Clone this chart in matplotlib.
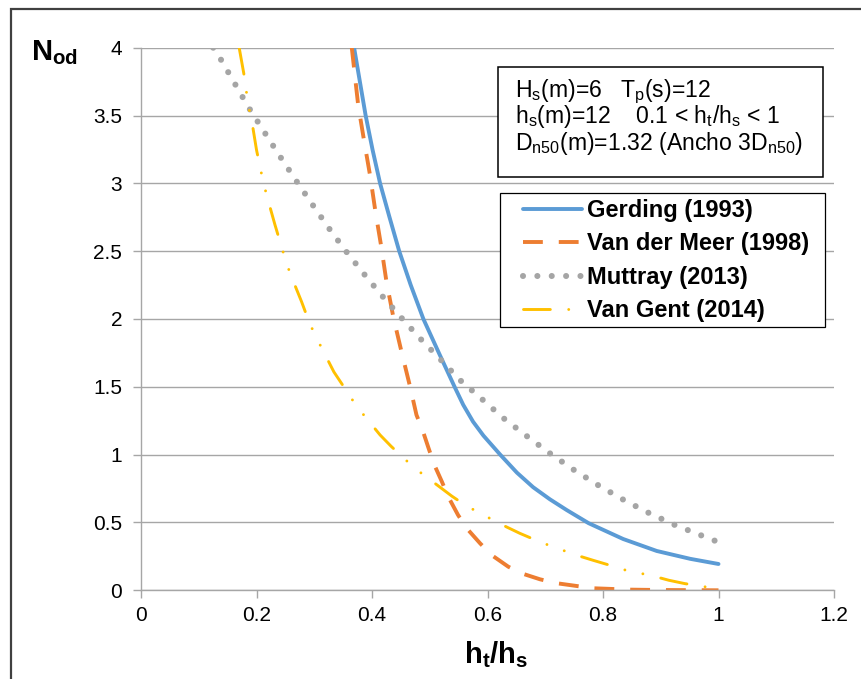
import matplotlib
matplotlib.use('Agg')
import matplotlib.pyplot as plt
from matplotlib.patches import Rectangle

plt.rcParams['font.family'] = ['Liberation Sans', 'DejaVu Sans']
plt.rcParams['mathtext.fontset'] = 'custom'
plt.rcParams['mathtext.rm'] = 'Liberation Sans'
plt.rcParams['mathtext.it'] = 'Liberation Sans:italic'
plt.rcParams['mathtext.bf'] = 'Liberation Sans:bold'
plt.rcParams['mathtext.default'] = 'rm'

W, H = 861, 679

# data (x = ht/hs, y = Nod)
gerding_x = [0.369, 0.389, 0.401, 0.414, 0.430, 0.447, 0.467, 0.489, 0.516, 0.543, 0.558, 0.575,
             0.593, 0.622, 0.651, 0.679, 0.708, 0.737, 0.775, 0.835, 0.893, 0.951, 1.000]
gerding_y = [4.000, 3.500, 3.247, 3.000, 2.755, 2.502, 2.251, 2.000, 1.748, 1.500, 1.367, 1.243,
             1.140, 1.000, 0.867, 0.760, 0.671, 0.592, 0.495, 0.378, 0.290, 0.232, 0.194]

meer_x = [0.365, 0.376, 0.386, 0.397, 0.406, 0.416, 0.425, 0.437, 0.451, 0.466, 0.477, 0.488,
          0.498, 0.508, 0.521, 0.532, 0.549, 0.564, 0.587, 0.607, 0.636, 0.659, 0.691, 0.720,
          0.754, 0.783, 0.815, 0.844, 0.900, 1.000]
meer_y = [4.000, 3.579, 3.321, 3.050, 2.790, 2.534, 2.276, 2.013, 1.760, 1.500, 1.293, 1.175,
          1.047, 0.924, 0.801, 0.690, 0.555, 0.457, 0.347, 0.260, 0.174, 0.125, 0.081, 0.052,
          0.032, 0.015, 0.010, 0.005, 0.002, 0.000]

muttray_x = [0.125, 0.136, 0.161, 0.186, 0.213, 0.240, 0.268, 0.296, 0.324, 0.353, 0.385, 0.417,
             0.450, 0.483, 0.518, 0.552, 0.590, 0.627, 0.667, 0.707, 0.748, 0.790, 0.833, 0.877,
             0.923, 0.970, 1.000]
muttray_y = [4.000, 3.930, 3.746, 3.562, 3.382, 3.203, 3.024, 2.849, 2.677, 2.510, 2.338, 2.173,
             2.013, 1.858, 1.704, 1.551, 1.411, 1.271, 1.140, 1.013, 0.892, 0.779, 0.673, 0.575,
             0.484, 0.405, 0.355]

gent_x = [0.170, 0.178, 0.182, 0.186, 0.192, 0.200, 0.206, 0.212, 0.219, 0.232, 0.241, 0.249,
          0.258, 0.278, 0.287, 0.298, 0.310, 0.334, 0.349, 0.365, 0.381, 0.414, 0.433, 0.454,
          0.474, 0.515, 0.538, 0.561, 0.587, 0.632, 0.656, 0.683, 0.708, 0.757, 0.783, 0.810,
          0.838, 0.887, 0.914, 0.942, 0.971, 1.000]
gent_y = [4.000, 3.810, 3.690, 3.570, 3.456, 3.247, 3.124, 3.004, 2.891, 2.694, 2.566, 2.453,
          2.338, 2.128, 2.025, 1.912, 1.810, 1.610, 1.514, 1.410, 1.317, 1.145, 1.062, 0.978,
          0.900, 0.769, 0.695, 0.629, 0.568, 0.469, 0.420, 0.371, 0.329, 0.255, 0.221, 0.187,
          0.150, 0.105, 0.074, 0.049, 0.032, 0.000]

labels = ['Gerding (1993)', 'Van der Meer (1998)', 'Muttray (2013)', 'Van Gent (2014)']
x_ticks = [0, 0.2, 0.4, 0.6, 0.8, 1, 1.2]
x_tick_labels = ['0', '0.2', '0.4', '0.6', '0.8', '1', '1.2']
y_ticks = [0, 0.5, 1, 1.5, 2, 2.5, 3, 3.5, 4]
y_tick_labels = ['0', '0.5', '1', '1.5', '2', '2.5', '3', '3.5', '4']


def fx(px):
    return px / W


def fy(py):
    return 1 - py / H


fig = plt.figure(figsize=(W / 100, H / 100), dpi=100)
ax = fig.add_axes([fx(141), fy(590.3), (834 - 141) / W, (590.3 - 47.7) / H])

ax.plot(gerding_x, gerding_y, color='#5B9BD5', lw=2.8, solid_capstyle='round',
        solid_joinstyle='round', label=labels[0])
ax.plot(meer_x, meer_y, color='#ED7D31', lw=2.8, linestyle=(0, (5.1, 4.1)), label=labels[1])
ax.plot(muttray_x, muttray_y, color='#A5A5A5', lw=4.4, linestyle=(0, (0.001, 2.35)),
        dash_capstyle='round', label=labels[2])
ax.plot(gent_x, gent_y, color='#FFC000', lw=2.1, linestyle=(0, (9.2, 6.3, 0.01, 6.3, 0.01, 6.3)),
        dash_capstyle='round', label=labels[3])

ax.set_xlim(0, 1.2)
ax.set_ylim(0, 4)
ax.set_xticks(x_ticks)
ax.set_xticklabels(x_tick_labels)
ax.set_yticks(y_ticks)
ax.set_yticklabels(y_tick_labels)
ax.tick_params(axis='both', direction='out', length=5.5, width=1.0, color='#A6A6A6',
               labelsize=15, labelcolor='#000000')
ax.tick_params(axis='y', pad=8)
ax.tick_params(axis='x', pad=6)

for s in ['top', 'right']:
    ax.spines[s].set_visible(False)
for s in ['left', 'bottom']:
    ax.spines[s].set_color('#A6A6A6')
    ax.spines[s].set_linewidth(1.0)

ax.grid(axis='y', color='#A6A6A6', lw=1.0)
ax.set_axisbelow(True)

# legend frame drawn separately, entries placed inside it
ax.add_patch(Rectangle((fx(500), fy(327.3)), (825 - 500) / W, (327.3 - 192.7) / H,
                       transform=fig.transFigure, facecolor='white', edgecolor='#000000',
                       lw=0.9, zorder=4, clip_on=False))
ax.legend(loc='upper left', bbox_to_anchor=(fx(523), fy(199)), bbox_transform=fig.transFigure,
          borderaxespad=0, borderpad=0, prop={'size': 17, 'weight': 'bold'}, handlelength=2.5,
          handletextpad=0.21, labelspacing=0.44, frameon=False)

# parameter box
fig.patches.append(Rectangle((fx(497.7), fy(176.7)), (822.7 - 497.7) / W, (176.7 - 66.7) / H,
                             transform=fig.transFigure, fill=True, facecolor='white',
                             edgecolor='#000000', lw=1.1, zorder=5))
box_lines = [r'H$_s$(m)=6   T$_p$(s)=12',
             r'h$_s$(m)=12    0.1 < h$_t$/h$_s$ < 1',
             r'D$_{n50}$(m)=1.32 (Ancho 3D$_{n50}$)']
for i, t in enumerate(box_lines):
    fig.text(fx(515), fy(97 + 26.5 * i), t, fontsize=16.6, va='baseline', ha='left', zorder=6)

# axis titles
fig.text(fx(31), fy(60), r'$\mathbf{N_{od}}$', fontsize=21, va='baseline', ha='left')
fig.text(fx(496), fy(663), r'$\mathbf{h_t/h_s}$', fontsize=21, va='baseline', ha='center')

# chart border
fig.patches.append(Rectangle((fx(11), fy(700)), (880 - 11) / W, (700 - 9.3) / H,
                             transform=fig.transFigure, fill=False, edgecolor='#404040',
                             lw=1.6, clip_on=False))

fig.savefig('out.png', dpi=100, facecolor='white')
